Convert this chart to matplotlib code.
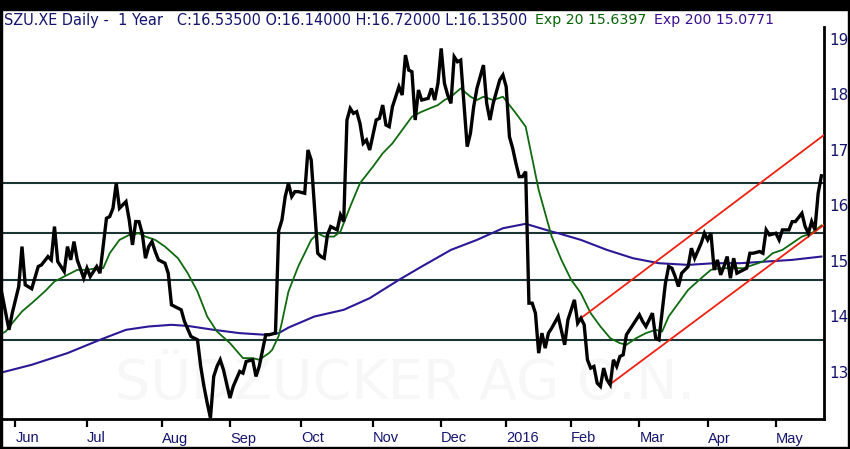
import matplotlib
matplotlib.use("Agg")
import matplotlib.pyplot as plt
from matplotlib.patches import Rectangle
import numpy as np
import pandas as pd

# ---------------- data ----------------
start_date = "2015-05-25"
end_date = "2016-05-20"
holidays = ["2015-12-24", "2015-12-25", "2015-12-31", "2016-01-01",
            "2016-03-25", "2016-03-28"]

close_day = [0, 1, 3, 4, 6, 7, 8, 10, 12, 13, 15, 16, 17, 18, 20, 21, 22, 23, 24, 26,
             27, 28, 30, 31, 33, 34, 35, 36, 37, 39, 40, 41, 42, 43, 44, 45, 46, 47, 48, 49,
             51, 52, 53, 54, 56, 57, 59, 61, 62, 63, 64, 65, 66, 67, 68, 69, 71, 72, 74, 75,
             76, 78, 79, 80, 82, 83, 85, 86, 87, 88, 89, 90, 91, 92, 94, 95, 96, 97, 98, 99,
             100, 101, 102, 104, 105, 106, 107, 108, 109, 110, 111, 112, 113, 114, 116, 117,
             118, 119, 120, 121, 123, 124, 125, 126, 127, 128, 129, 130, 132, 133, 134, 135,
             136, 137, 138, 139, 140, 141, 142, 143, 144, 145, 146, 147, 149, 150, 151, 152,
             154, 155, 156, 157, 158, 159, 160, 161, 162, 163, 164, 165, 166, 167, 168, 169,
             170, 172, 174, 175, 177, 178, 179, 180, 181, 182, 183, 184, 185, 186, 187, 188,
             189, 190, 191, 192, 193, 194, 195, 197, 198, 199, 201, 202, 203, 205, 206, 207,
             208, 209, 210, 212, 213, 214, 216, 217, 218, 219, 220, 221, 222, 223, 224, 225,
             226, 227, 228, 230, 231, 232, 234, 235, 236, 237, 239, 240, 241, 243, 244, 245,
             247, 248, 249, 250, 251, 252, 253]
close_val = [14.63, 14.36, 13.76, 14.06, 14.54, 15.26, 14.57, 14.50, 14.90, 14.93, 15.08, 15.02,
             15.62, 14.99, 14.81, 15.26, 15.02, 15.35, 15.02, 14.69, 14.87, 14.72, 14.90, 14.78,
             15.77, 15.80, 15.95, 16.40, 15.95, 16.07, 15.74, 15.29, 15.71, 15.71, 15.50, 15.05,
             15.26, 15.35, 15.17, 15.02, 14.96, 14.78, 14.21, 14.18, 14.12, 13.91, 13.64, 13.58,
             13.10, 12.74, 12.44, 12.17, 12.92, 13.10, 13.22, 13.04, 12.53, 12.74, 13.01, 12.98,
             13.19, 13.22, 12.92, 13.10, 13.67, 13.67, 13.70, 15.55, 15.74, 16.16, 16.40, 16.16,
             16.25, 16.25, 16.22, 17.00, 16.82, 15.98, 15.14, 15.08, 15.05, 15.47, 15.62, 15.56,
             15.83, 15.71, 17.54, 17.75, 17.66, 17.69, 17.48, 17.12, 17.18, 17.00, 17.54, 17.57,
             17.81, 17.45, 17.42, 17.78, 18.14, 17.99, 18.71, 18.44, 18.41, 17.54, 18.08, 17.90,
             17.93, 18.11, 17.90, 18.20, 18.83, 18.20, 17.99, 17.84, 18.68, 18.59, 18.62, 17.84,
             17.06, 17.30, 17.78, 18.11, 18.53, 17.84, 17.54, 17.84, 18.26, 18.35, 18.14, 17.24,
             17.03, 16.76, 16.52, 16.52, 16.61, 14.24, 14.24, 14.06, 13.34, 13.70, 13.43, 13.70,
             13.79, 14.00, 13.49, 13.94, 14.30, 13.88, 13.97, 13.85, 13.22, 13.07, 13.10, 12.80,
             12.74, 13.07, 12.86, 12.77, 13.22, 13.10, 13.28, 13.31, 13.67, 13.76, 13.85, 14.03,
             13.91, 13.82, 14.06, 13.61, 13.58, 14.60, 14.90, 14.87, 14.72, 14.54, 14.78, 14.90,
             15.23, 15.05, 15.32, 15.50, 15.38, 15.50, 14.84, 15.02, 14.75, 14.90, 15.08, 14.69,
             15.05, 14.78, 14.81, 14.87, 15.14, 15.14, 15.17, 15.14, 15.56, 15.47, 15.50, 15.38,
             15.56, 15.56, 15.71, 15.71, 15.86, 15.62, 15.50, 15.71, 15.56, 16.22, 16.535]

ema20_day = [0, 2, 4, 7, 10, 14, 17, 21, 24, 27, 30, 32, 34, 37, 40, 43, 45, 48, 51, 55,
             58, 61, 64, 67, 71, 75, 78, 80, 83, 84, 86, 87, 89, 92, 96, 98, 100, 103, 105,
             108, 111, 115, 118, 121, 124, 127, 130, 135, 137, 139, 142, 145, 147, 149, 152,
             155, 159, 162, 164, 166, 168, 170, 173, 176, 179, 182, 185, 188, 191, 193, 196,
             199, 202, 204, 206, 209, 212, 216, 219, 222, 226, 229, 232, 235, 238, 241, 244,
             247, 250, 253]
ema20_val = [13.67, 13.73, 13.88, 14.09, 14.24, 14.45, 14.63, 14.75, 14.84, 14.84, 14.87, 14.87,
             15.14, 15.38, 15.47, 15.50, 15.44, 15.38, 15.26, 15.05, 14.78, 14.45, 14.00, 13.73,
             13.52, 13.25, 13.25, 13.22, 13.34, 13.40, 13.65, 13.90, 14.45, 14.90, 15.38, 15.50,
             15.44, 15.44, 15.53, 15.98, 16.40, 16.70, 16.94, 17.12, 17.36, 17.60, 17.69, 17.81,
             17.90, 17.96, 18.11, 17.96, 17.90, 17.96, 17.90, 17.96, 17.66, 17.42, 16.85, 16.28,
             15.86, 15.44, 15.02, 14.66, 14.42, 14.06, 13.82, 13.61, 13.52, 13.49, 13.61, 13.70,
             13.76, 13.73, 14.00, 14.24, 14.48, 14.69, 14.84, 14.87, 14.87, 14.87, 14.93, 14.99,
             15.14, 15.20, 15.32, 15.44, 15.50, 15.64]

ema200_day = [0, 10, 21, 31, 39, 46, 53, 58, 66, 74, 82, 86, 89, 97, 106, 114, 123, 130,
              139, 147, 155, 162, 170, 172, 179, 187, 195, 203, 212, 220, 228, 236, 244, 253]
ema200_val = [12.98, 13.13, 13.34, 13.58, 13.76, 13.82, 13.85, 13.83, 13.76, 13.70, 13.67,
              13.70, 13.80, 14.00, 14.12, 14.33, 14.66, 14.90, 15.20, 15.38, 15.59, 15.67,
              15.53, 15.50, 15.38, 15.20, 15.05, 14.96, 14.93, 14.96, 14.96, 14.99, 15.02, 15.08]

level_vals = [16.40, 15.50, 14.66, 13.58]

upper_day = [179, 253.8]
upper_val = [13.97, 17.27]
lower_day = [188, 253.8]
lower_val = [12.78, 15.65]

y_ticks = [13, 14, 15, 16, 17, 18, 19]

title_main = "SZU.XE Daily -  1 Year   C:16.53500 O:16.14000 H:16.72000 L:16.13500"
title_ema20 = "Exp 20 15.6397"
title_ema200 = "Exp 200 15.0771"
watermark = "SÜDZUCKER AG O.N."

# ---------------- calendar ----------------
dates = pd.bdate_range(start_date, end_date, freq="C", holidays=holidays)
months = pd.Series(np.arange(len(dates)), index=dates)
first_idx = months.groupby([dates.year, dates.month]).first()
tick_pos, tick_lab = [], []
for (yr, mo), idx in first_idx.items():
    if idx == 0:
        continue
    tick_pos.append(idx)
    tick_lab.append(str(yr) if mo == 1 else pd.Timestamp(yr, mo, 1).strftime("%b"))

# ---------------- figure ----------------
W, H = 850, 449
fig = plt.figure(figsize=(W / 100, H / 100), dpi=100)
fig.patch.set_facecolor("white")
ax = fig.add_axes([2 / W, 30 / H, 822 / W, 392 / H])

navy = "#14146e"
for lv in level_vals:
    ax.axhline(lv, color="#1c3434", lw=1.5, zorder=2)

ax.plot(ema200_day, ema200_val, color="#2c1896", lw=1.5, zorder=3)
ax.plot(ema20_day, ema20_val, color="#0f6a0f", lw=1.3, zorder=4)
ax.plot(upper_day, upper_val, color="#f02010", lw=1.3, zorder=4)
ax.plot(lower_day, lower_val, color="#f02010", lw=1.3, zorder=4)
ax.plot(close_day, close_val, color="black", lw=2.4, zorder=5,
        solid_joinstyle="miter")

ax.set_xlim(0.85, 253.8)
ax.set_ylim(12.153, 19.216)

ax.text(0.49, 0.09, watermark, transform=ax.transAxes, ha="center", va="center",
        fontsize=40, color="#f7f7f7", zorder=1, family="DejaVu Sans")

for s in ["left", "top"]:
    ax.spines[s].set_visible(False)
for s in ["right", "bottom"]:
    ax.spines[s].set_linewidth(2)
    ax.spines[s].set_color("black")

ax.yaxis.tick_right()
ax.set_yticks(y_ticks)
ax.set_yticklabels([str(v) for v in y_ticks])
ax.tick_params(axis="y", length=0, pad=4, labelsize=11, labelcolor=navy)
ax.set_xticks(tick_pos)
ax.set_xticklabels(tick_lab)
ax.tick_params(axis="x", length=6, width=1.6, direction="out", pad=3,
               labelsize=10.5, labelcolor=navy, color="black")
for lab in ax.get_xticklabels():
    lab.set_ha("left")
    lab.set_family(["Liberation Sans Narrow", "Liberation Sans"])
for lab in ax.get_yticklabels():
    lab.set_family("DejaVu Sans")

# header
ty = 1 - 20 / H
fig.text(4 / W, ty, title_main, ha="left", va="center", fontsize=10.45,
         color=navy, family="DejaVu Sans")
fig.text(535 / W, ty, title_ema20, ha="left", va="center", fontsize=10.2,
         color="#0a640a", family="DejaVu Sans")
fig.text(654 / W, ty, title_ema200, ha="left", va="center", fontsize=10.2,
         color="#3a1090", family="DejaVu Sans")

# black frame around image
for (x0, y0, w, h) in [(0, 1 - 10 / H, 1, 10 / H), (0, 0, 2 / W, 1),
                       (1 - 2 / W, 0, 2 / W, 1), (0, 0, 1, 2 / H)]:
    fig.patches.append(Rectangle((x0, y0), w, h, transform=fig.transFigure,
                                 color="black", zorder=10))

fig.savefig("out.png", dpi=100)
